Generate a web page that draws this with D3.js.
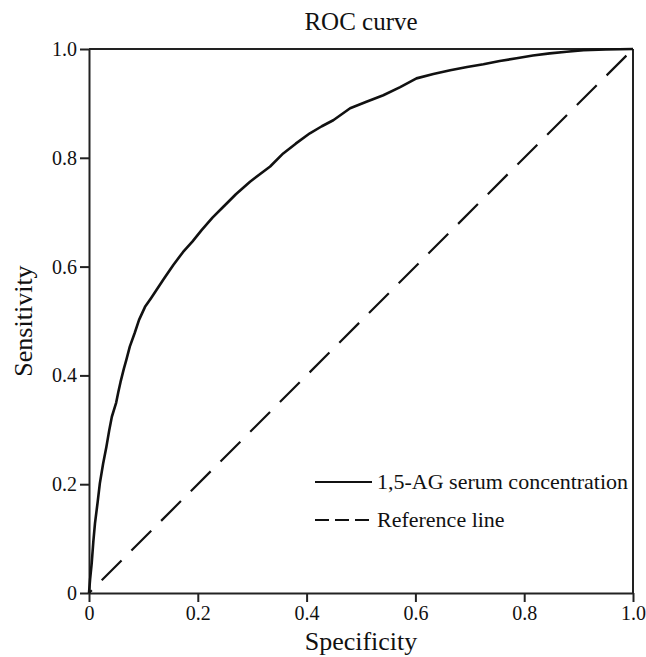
<!DOCTYPE html>
<html>
<head>
<meta charset="utf-8">
<script src="https://cdn.jsdelivr.net/npm/d3@7"></script>
<style>
  html, body { margin: 0; padding: 0; background: #fff; }
  svg text { font-family: "Liberation Serif", "Times New Roman", serif; fill: #111; }
</style>
</head>
<body>
<svg id="chart" width="646" height="657"></svg>
<script>
// ROC curve points: [1 - specificity (as labelled "Specificity"), sensitivity]
const rocSpec = [0, 0.002, 0.005, 0.008, 0.011, 0.016, 0.020, 0.026, 0.032, 0.037, 0.042, 0.050, 0.054, 0.058, 0.064, 0.069, 0.075, 0.084, 0.092, 0.103, 0.114, 0.124, 0.138, 0.155, 0.173, 0.190, 0.207, 0.227, 0.247, 0.270, 0.296, 0.333, 0.357, 0.380, 0.406, 0.428, 0.449, 0.480, 0.510, 0.541, 0.572, 0.602, 0.633, 0.664, 0.695, 0.725, 0.755, 0.786, 0.816, 0.847, 0.878, 0.909, 0.950, 1.0];
const rocSens = [0, 0.025, 0.055, 0.095, 0.128, 0.168, 0.202, 0.238, 0.269, 0.298, 0.324, 0.350, 0.370, 0.388, 0.412, 0.430, 0.453, 0.478, 0.502, 0.526, 0.542, 0.557, 0.578, 0.603, 0.627, 0.646, 0.667, 0.690, 0.710, 0.733, 0.756, 0.784, 0.808, 0.826, 0.845, 0.858, 0.869, 0.891, 0.903, 0.915, 0.930, 0.946, 0.954, 0.961, 0.967, 0.972, 0.978, 0.983, 0.988, 0.992, 0.995, 0.998, 0.999, 1.0];
const refSpec = [0, 1];
const refSens = [0, 1];
const tickValues = [0, 0.2, 0.4, 0.6, 0.8, 1.0];
const tickLabels = ["0", "0.2", "0.4", "0.6", "0.8", "1.0"];
const legendLabels = ["1,5-AG serum concentration", "Reference line"];
const titleText = "ROC curve";
const xTitle = "Specificity";
const yTitle = "Sensitivity";

(function () {
const svg = d3.select("#chart");
const mLeft = 89, mRight = 633, mTop = 49, mBottom = 593;
const x = d3.scaleLinear().domain([0, 1]).range([mLeft, mRight]);
const y = d3.scaleLinear().domain([0, 1]).range([mBottom, mTop]);

const axisColor = "#222";

// Frame (top & right)
svg.append("line").attr("x1", mLeft).attr("x2", mRight).attr("y1", mTop).attr("y2", mTop)
  .attr("stroke", axisColor).attr("stroke-width", 2);
svg.append("line").attr("x1", mRight).attr("x2", mRight).attr("y1", mTop).attr("y2", mBottom)
  .attr("stroke", axisColor).attr("stroke-width", 2);

const fmt = (d) => tickLabels[tickValues.indexOf(d)];

const xAxis = svg.append("g").attr("transform", `translate(0,${mBottom})`)
  .call(d3.axisBottom(x).tickValues(tickValues).tickFormat(fmt).tickSize(9).tickSizeOuter(0).tickPadding(4));
const yAxis = svg.append("g").attr("transform", `translate(${mLeft},0)`)
  .call(d3.axisLeft(y).tickValues(tickValues).tickFormat(fmt).tickSize(9).tickSizeOuter(0).tickPadding(3));

[xAxis, yAxis].forEach(g => {
  g.select(".domain").attr("stroke", axisColor).attr("stroke-width", 2);
  g.selectAll(".tick line").attr("stroke", axisColor).attr("stroke-width", 2);
  g.selectAll(".tick text").style("font-family", '"Liberation Serif", serif').style("font-size", "20px").attr("fill", "#111");
});

// Reference line
const line = d3.line().x(d => x(d[0])).y(d => y(d[1]));
svg.append("path")
  .datum(refSpec.map((v, i) => [v, refSens[i]]))
  .attr("d", line).attr("fill", "none").attr("stroke", "#111")
  .attr("stroke-width", 2.2).attr("stroke-dasharray", "28,14").attr("stroke-dashoffset", -18);

// ROC curve
svg.append("path")
  .datum(rocSpec.map((v, i) => [v, rocSens[i]]))
  .attr("d", line).attr("fill", "none").attr("stroke", "#111")
  .attr("stroke-width", 2.6).attr("stroke-linejoin", "round");

// Title
svg.append("text").attr("x", (mLeft + mRight) / 2).attr("y", 30).attr("text-anchor", "middle")
  .style("font-size", "25px").text(titleText);
// Axis titles
svg.append("text").attr("x", (mLeft + mRight) / 2).attr("y", 650).attr("text-anchor", "middle")
  .style("font-size", "26px").text(xTitle);
svg.append("text").attr("transform", `translate(32,${(mTop + mBottom) / 2}) rotate(-90)`)
  .attr("text-anchor", "middle").style("font-size", "26px").text(yTitle);

// Legend
const legY = [482, 520];
const legDash = ["none", "14,6"];
legendLabels.forEach((lab, i) => {
  svg.append("line").attr("x1", 315).attr("x2", 372).attr("y1", legY[i]).attr("y2", legY[i])
    .attr("stroke", "#111").attr("stroke-width", 2.2).attr("stroke-dasharray", legDash[i]);
  svg.append("text").attr("x", 377).attr("y", legY[i] + 7).style("font-size", "22px").text(lab);
});
})();
</script>
</body>
</html>
